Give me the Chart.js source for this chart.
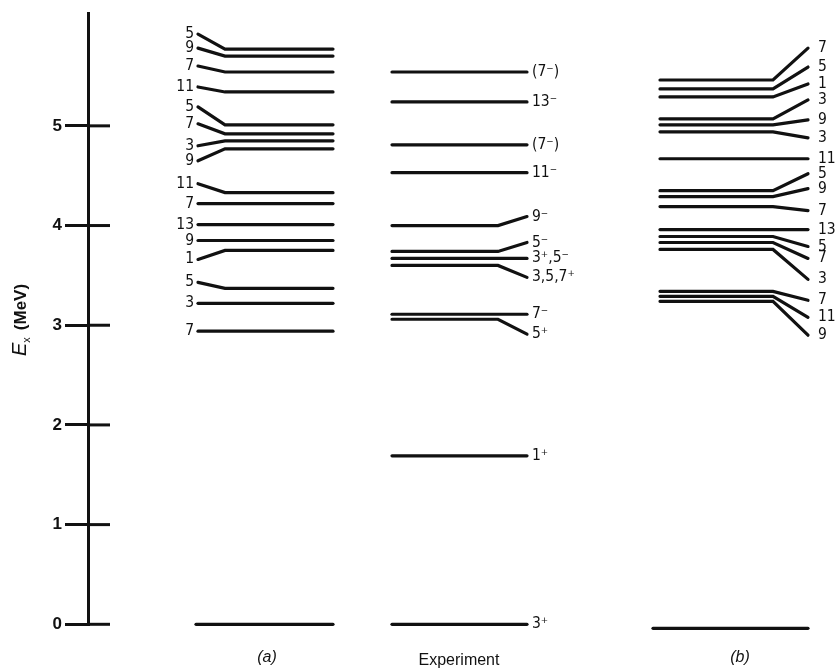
<!DOCTYPE html>
<html>
<head>
<meta charset="utf-8">
<script src="https://cdn.jsdelivr.net/npm/chart.js@4.4.1/dist/chart.umd.min.js"></script>
<style>
  html, body { margin: 0; padding: 0; background: #fff; }
  canvas { display: block; }
</style>
</head>
<body>
<canvas id="c" width="835" height="669"></canvas>
<script>
// ---------- data (energies in MeV) ----------
const tickValues = [0, 1, 2, 3, 4, 5];
const axisTop = 6.13;

// column (a): spin labels, level energy, energy at the labelled stub end
const aLabels = ['5','9','7','11','5','7','3','9','11','7','13','9','1','5','3','7',''];
const aLevels = [5.77,5.70,5.54,5.34,5.01,4.92,4.85,4.77,4.33,4.22,4.01,3.85,3.75,3.37,3.22,2.94,0];
const aLabelE = [5.92,5.78,5.60,5.39,5.19,5.02,4.80,4.65,4.42,4.22,4.01,3.85,3.66,3.43,3.22,2.94,0];

// Experiment column
const expLabels = ['(7\u207B)','13\u207B','(7\u207B)','11\u207B','9\u207B','5\u207B','3\u207A,5\u207B','3,5,7\u207A','7\u207B','5\u207A','1\u207A','3\u207A'];
const expLevels = [5.54,5.24,4.81,4.53,4.00,3.74,3.67,3.60,3.11,3.06,1.69,0];
const expLabelE = [5.54,5.24,4.81,4.53,4.09,3.83,3.67,3.48,3.11,2.91,1.69,0];

// column (b)
const bLabels = ['7','5','1','3','9','3','11','5','9','7','13','5','7','3','7','11','9',''];
const bLevels = [5.46,5.37,5.29,5.07,5.01,4.94,4.67,4.35,4.29,4.19,3.96,3.89,3.83,3.76,3.34,3.29,3.24,-0.04];
const bLabelE = [5.78,5.59,5.42,5.26,5.06,4.88,4.67,4.52,4.37,4.15,3.96,3.79,3.67,3.46,3.25,3.08,2.90,-0.04];

const columnNames = ['(a)', 'Experiment', '(b)'];

// ---------- layout (x positions in horizontal scale units) ----------
const colA = { start: 198, groundStart: 196, bend: 225, end: 333, labelX: 194, align: 'right', stubLeft: true };
const colE = { start: 392, groundStart: 392, bend: 498, end: 527, labelX: 532, align: 'left', stubLeft: false };
const colB = { start: 660, groundStart: 653, bend: 773, end: 808, labelX: 818, align: 'left', stubLeft: false };
const captionX = [267, 459, 740];

const INK = '#111';
const datasets = [];
const labelItems = [];

function addColumn(col, labels, levels, labelE) {
  levels.forEach((E, i) => {
    const L = labelE[i];
    const isGround = i === levels.length - 1;
    const s = isGround ? col.groundStart : col.start;
    let pts;
    if (col.stubLeft) {
      pts = Math.abs(L - E) > 0.004
        ? [{x: s, y: L}, {x: col.bend, y: E}, {x: col.end, y: E}]
        : [{x: s, y: E}, {x: col.end, y: E}];
    } else {
      pts = Math.abs(L - E) > 0.004
        ? [{x: s, y: E}, {x: col.bend, y: E}, {x: col.end, y: L}]
        : [{x: s, y: E}, {x: col.end, y: E}];
    }
    datasets.push({
      data: pts, showLine: true, borderColor: INK, borderWidth: 3.2,
      pointRadius: 0, tension: 0, clip: false, borderCapStyle: 'round'
    });
    if (labels[i]) labelItems.push({ text: labels[i], x: col.labelX, y: L, align: col.align });
  });
}
addColumn(colA, aLabels, aLevels, aLabelE);
addColumn(colE, expLabels, expLevels, expLabelE);
addColumn(colB, bLabels, bLevels, bLabelE);

const labelFont = '15.5px "Liberation Sans Narrow", "DejaVu Sans Condensed", "Liberation Sans", sans-serif';

const drawPlugin = {
  id: 'levelText',
  afterDraw(chart) {
    const ctx = chart.ctx;
    const xs = chart.scales.x, ys = chart.scales.y;
    ctx.save();
    // right half of the crossing tick marks
    ctx.strokeStyle = INK;
    ctx.lineWidth = 3;
    tickValues.forEach(v => {
      const py = ys.getPixelForValue(v);
      ctx.beginPath();
      ctx.moveTo(xs.left, py);
      ctx.lineTo(xs.left + 22, py);
      ctx.stroke();
    });
    // level labels
    ctx.fillStyle = INK;
    ctx.font = labelFont;
    ctx.textBaseline = 'middle';
    labelItems.forEach(it => {
      ctx.textAlign = it.align;
      ctx.fillText(it.text, xs.getPixelForValue(it.x), ys.getPixelForValue(it.y));
    });
    // column captions
    ctx.textAlign = 'center';
    ctx.textBaseline = 'middle';
    const capY = ys.getPixelForValue(0) + 33;
    columnNames.forEach((t, i) => {
      ctx.font = (i === 1 ? '' : 'italic ') + '16px "Liberation Sans", "DejaVu Sans", sans-serif';
      ctx.fillText(t, xs.getPixelForValue(captionX[i]), capY + (i === 1 ? 3 : 0));
    });
    // vertical axis title  E_x (MeV)
    ctx.translate(26, 356);
    ctx.rotate(-Math.PI / 2);
    ctx.textAlign = 'left';
    ctx.textBaseline = 'alphabetic';
    let cx = 0;
    ctx.font = 'italic 20px "Liberation Sans", "DejaVu Sans", sans-serif';
    ctx.fillText('E', cx, 0); cx += ctx.measureText('E').width;
    ctx.font = '11px "Liberation Sans", "DejaVu Sans", sans-serif';
    ctx.fillText('x', cx, 4); cx += ctx.measureText('x').width + 7;
    ctx.font = 'bold 17px "Liberation Sans", "DejaVu Sans", sans-serif';
    ctx.fillText('(MeV)', cx, 0);
    ctx.restore();
  }
};

new Chart(document.getElementById('c'), {
  type: 'scatter',
  data: { datasets },
  options: {
    responsive: false,
    animation: false,
    events: [],
    layout: { padding: { top: 8.3, bottom: 44.7, left: 0, right: 0 } },
    plugins: { legend: { display: false }, tooltip: { enabled: false }, title: { display: false } },
    scales: {
      x: { type: 'linear', min: 88, max: 835, display: false },
      y: {
        type: 'linear', min: 0, max: axisTop,
        afterFit(scale) { scale.width = 88; },
        afterBuildTicks(scale) { scale.ticks = tickValues.map(v => ({ value: v })); },
        border: { display: true, color: INK, width: 3 },
        grid: { display: true, drawOnChartArea: false, color: INK, lineWidth: 3, tickLength: 23 },
        ticks: {
          color: INK, padding: 3,
          font: { size: 17, weight: 'bold', family: '"Liberation Sans", "DejaVu Sans", sans-serif' },
          callback: v => String(v)
        }
      }
    }
  },
  plugins: [drawPlugin]
});
</script>
</body>
</html>
